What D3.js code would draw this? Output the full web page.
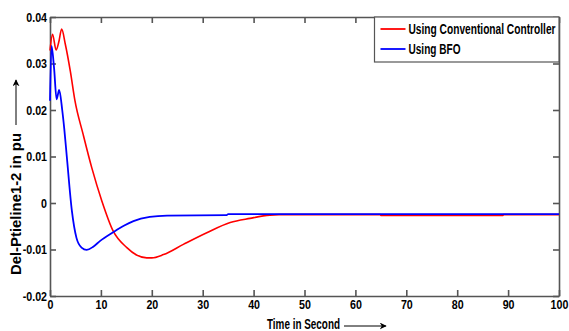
<!DOCTYPE html>
<html>
<head>
<meta charset="utf-8">
<script src="https://cdn.jsdelivr.net/npm/d3@7"></script>
<style>
  body { margin: 0; background: #fff; }
  text { font-family: "Liberation Sans", Arial, sans-serif; font-weight: bold; }
</style>
</head>
<body>
<div id="chart"></div>
<script>
// values
var seriesNames = ["Using Conventional Controller", "Using BFO"];
var seriesColors = ["#ff0000", "#0000ff"];

var convT = [0, 0.5, 1.2, 1.7, 2.3, 3, 4, 4.9, 6.5, 8.2, 10.2, 12.4, 15.1, 17, 19, 20, 22.3, 26.2, 30.8, 35.4, 39.3, 43.2, 45, 64.9, 65, 89, 89.1, 100];
var convV = [0.0328, 0.0363, 0.0329, 0.0345, 0.0374, 0.0342, 0.0283, 0.0220, 0.0148, 0.0076, 0.0004, -0.0060, -0.0096, -0.0112, -0.0118, -0.0118, -0.0111, -0.0089, -0.0064, -0.0042, -0.0033, -0.0026, -0.0025, -0.0025, -0.0027, -0.0027, -0.0025, -0.0025];

var bfoT = [0, 0.3, 0.8, 1.3, 1.8, 2.4, 2.8, 3.3, 4.3, 5.2, 6.2, 7.2, 8.5, 9.8, 12.4, 14.5, 16.4, 19.6, 23, 34.7, 35, 100];
var bfoV = [0.0220, 0.0338, 0.0290, 0.0223, 0.0243, 0.0200, 0.0160, 0.0100, -0.0017, -0.0075, -0.0096, -0.0101, -0.0094, -0.0082, -0.0063, -0.0049, -0.0039, -0.0030, -0.0027, -0.0026, -0.0024, -0.0024];

var xTicks = [0, 10, 20, 30, 40, 50, 60, 70, 80, 90, 100];
var yTicks = [-0.02, -0.01, 0, 0.01, 0.02, 0.03, 0.04];

var margin = {top: 17, right: 10, bottom: 35, left: 50},
    width = 569 - margin.left - margin.right,
    height = 331 - margin.top - margin.bottom;

// the original font is condensed, squeeze the glyphs
function narrow(sel, f) {
  sel.each(function() {
    var len = this.getComputedTextLength();
    d3.select(this).attr("textLength", len * f).attr("lengthAdjust", "spacingAndGlyphs");
  });
}

var svg = d3.select("#chart")
  .append("svg")
    .attr("width", 569)
    .attr("height", 331)
  .append("g")
    .attr("transform", "translate(" + margin.left + "," + margin.top + ")");

var x = d3.scaleLinear().domain([0, 100]).range([0, width]);
var y = d3.scaleLinear().domain([-0.02, 0.04]).range([height, 0]);

var fmtY = function(d) { return d === 0 ? "0" : String(+d.toFixed(2)); };

// axes, ticks point inward
var xAxis = svg.append("g")
  .attr("transform", "translate(0," + height + ")")
  .call(d3.axisBottom(x).tickValues(xTicks).tickSize(-6).tickPadding(4).tickSizeOuter(0));
var xTop = svg.append("g")
  .call(d3.axisTop(x).tickValues(xTicks).tickSize(-6).tickFormat("").tickSizeOuter(0));
var yAxis = svg.append("g")
  .call(d3.axisLeft(y).tickValues(yTicks).tickSize(-6).tickPadding(3).tickFormat(fmtY).tickSizeOuter(0));
var yRight = svg.append("g")
  .attr("transform", "translate(" + width + ",0)")
  .call(d3.axisRight(y).tickValues(yTicks).tickSize(-6).tickFormat("").tickSizeOuter(0));

[xAxis, xTop, yAxis, yRight].forEach(function(a) {
  a.selectAll("path, line").attr("stroke", "#555").attr("stroke-width", 1.6);
  a.selectAll("text").attr("fill", "#000").style("font-size", "13px");
  narrow(a.selectAll("text"), 0.82);
});

// data lines
var line = d3.line()
  .curve(d3.curveMonotoneX)
  .x(function(d) { return x(d[0]); })
  .y(function(d) { return y(d[1]); });

svg.append("path")
  .datum(d3.zip(convT, convV))
  .attr("fill", "none")
  .attr("stroke", seriesColors[0])
  .attr("stroke-width", 1.6)
  .attr("d", line);

svg.append("path")
  .datum(d3.zip(bfoT, bfoV))
  .attr("fill", "none")
  .attr("stroke", seriesColors[1])
  .attr("stroke-width", 1.8)
  .attr("d", line);

// legend
var lg = svg.append("g").attr("transform", "translate(" + (374.5 - margin.left) + ",0)");
lg.append("rect")
  .attr("width", width - (374.5 - margin.left))
  .attr("height", 45)
  .attr("fill", "#fff")
  .attr("stroke", "#555")
  .attr("stroke-width", 1.2);
var legendW = [147, 52];
seriesNames.forEach(function(name, i) {
  var yy = 12 + i * 20;
  lg.append("line")
    .attr("x1", 6).attr("x2", 31)
    .attr("y1", yy).attr("y2", yy)
    .attr("stroke", seriesColors[i]).attr("stroke-width", 1.8);
  lg.append("text")
    .attr("x", 34).attr("y", yy + 5)
    .style("font-size", "14px")
    .attr("textLength", legendW[i])
    .attr("lengthAdjust", "spacingAndGlyphs")
    .text(name);
});

// axis titles with arrows
svg.append("defs").append("marker")
  .attr("id", "arr")
  .attr("viewBox", "0 0 10 10")
  .attr("refX", 9).attr("refY", 5)
  .attr("markerWidth", 7).attr("markerHeight", 7)
  .attr("orient", "auto")
  .append("path").attr("d", "M0,0L10,5L0,10L3,5z").attr("fill", "#000");

svg.append("text")
  .attr("x", 267 - margin.left)
  .attr("y", 329 - margin.top)
  .style("font-size", "14px")
  .attr("textLength", 73)
  .attr("lengthAdjust", "spacingAndGlyphs")
  .text("Time in Second");
svg.append("line")
  .attr("x1", 344 - margin.left).attr("x2", 386 - margin.left)
  .attr("y1", 326 - margin.top).attr("y2", 326 - margin.top)
  .attr("stroke", "#000").attr("stroke-width", 1)
  .attr("marker-end", "url(#arr)");

svg.append("text")
  .attr("transform", "rotate(-90)")
  .attr("x", -(275 - margin.top))
  .attr("y", 21 - margin.left)
  .style("font-size", "14px")
  .attr("textLength", 142)
  .attr("lengthAdjust", "spacingAndGlyphs")
  .text("Del-Ptieline1-2 in pu");
svg.append("line")
  .attr("x1", 16 - margin.left).attr("x2", 16 - margin.left)
  .attr("y1", 125 - margin.top).attr("y2", 80 - margin.top)
  .attr("stroke", "#000").attr("stroke-width", 1)
  .attr("marker-end", "url(#arr)");
</script>
</body>
</html>
